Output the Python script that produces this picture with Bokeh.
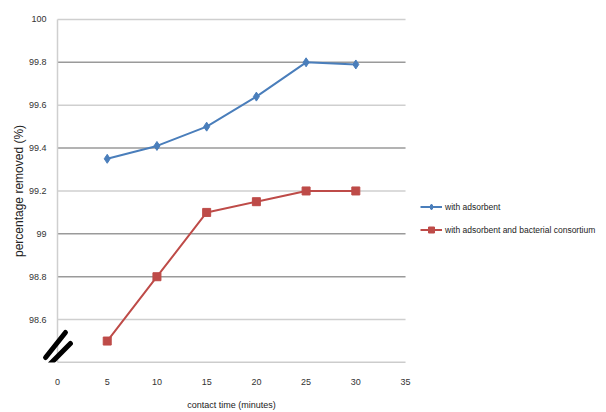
import math
from bokeh.plotting import figure
from bokeh.models import (Range1d, FixedTicker, Legend, LegendItem, LinearAxis)
from bokeh.core.properties import value
from bokeh.embed import file_html
from bokeh.resources import INLINE

# ---- data ----
contact_time = [5, 10, 15, 20, 25, 30]
with_adsorbent = [99.35, 99.41, 99.50, 99.64, 99.80, 99.79]
with_adsorbent_bacterial = [98.5, 98.8, 99.1, 99.15, 99.2, 99.2]

x_ticks = [0, 5, 10, 15, 20, 25, 30, 35]
y_ticks = [98.6, 98.8, 99.0, 99.2, 99.4, 99.6, 99.8, 100.0]
y_tick_labels = ["98.6", "98.8", "99", "99.2", "99.4", "99.6", "99.8", "100"]
y_min, y_max = 98.4, 100.0
dark_grid = [98.4, 98.8, 99.0, 99.4, 99.8]
light_grid = [98.6, 99.2, 99.6, 100.0]

series_names = ["with adsorbent", "with adsorbent and bacterial consortium"]
x_title = "contact time (minutes)"
y_title = "percentage removed (%)"

# axis-break marker (two slanted strokes across the value axis)
break_x0 = [-1.2, -0.7]
break_x1 = [0.8, 1.3]
break_y0 = [98.423, 98.395]
break_y1 = [98.540, 98.489]

BLUE = "#4a7ebb"
RED = "#be4b48"
FONT = "Liberation Sans"

# frame covers the whole width; value-axis labels are drawn inside it
p = figure(width=606, height=412, output_backend="svg", toolbar_location=None,
           x_range=Range1d(-5.733, 55.21), y_range=Range1d(y_min, y_max + 0.037),
           min_border_left=0, min_border_right=0, min_border_top=11,
           min_border_bottom=50)
p.outline_line_color = None
p.background_fill_color = "white"
p.border_fill_color = "white"
p.xgrid.visible = False
p.ygrid.visible = False
p.yaxis.visible = False

# horizontal gridlines from x=0 to the last tick
n_l = len(light_grid)
p.segment(x0=[x_ticks[0]] * n_l, x1=[x_ticks[-1]] * n_l, y0=light_grid, y1=light_grid,
          line_color="#cfcfcf", line_width=1.5)
n_d = len(dark_grid)
p.segment(x0=[x_ticks[0]] * n_d, x1=[x_ticks[-1]] * n_d, y0=dark_grid, y1=dark_grid,
          line_color="#9a9a9a", line_width=1.5)
# vertical value axis line at x = 0
p.segment(x0=[x_ticks[0]], x1=[x_ticks[0]], y0=[y_min], y1=[y_max],
          line_color="#cfcfcf", line_width=1.5)

# value-axis tick labels and title
p.text(x=[-1.1] * len(y_ticks), y=y_ticks, text=y_tick_labels,
       text_font=value(FONT), text_font_size="9px", text_color="#333333",
       text_align="right", text_baseline="middle")
p.text(x=[-3.9], y=[(y_min + y_max) / 2], text=[y_title], angle=math.pi / 2,
       text_font=value(FONT), text_font_size="12px", text_color="#222222",
       text_align="center", text_baseline="middle")

# category axis
p.xaxis.ticker = FixedTicker(ticks=x_ticks)
title_axis = LinearAxis(ticker=FixedTicker(ticks=[x_ticks[-1] / 2]),
                        major_label_overrides={x_ticks[-1] / 2: x_title})
p.add_layout(title_axis, "below")
for ax in (p.xaxis[0], title_axis):
    ax.axis_line_color = None
    ax.major_tick_line_color = None
    ax.minor_tick_line_color = None
    ax.major_label_text_font = FONT
    ax.major_label_text_font_size = "9px"
    ax.major_label_text_color = "#333333"
title_axis.major_label_text_color = "#222222"
p.xaxis[0].major_label_standoff = 10
title_axis.major_label_standoff = 6

# axis break marker
p.segment(x0=break_x0, x1=break_x1, y0=break_y0, y1=break_y1,
          line_color="black", line_width=5, line_cap="round")

# series
l1 = p.line(contact_time, with_adsorbent, line_color=BLUE, line_width=2)
m1 = p.scatter(contact_time, with_adsorbent, marker="diamond", size=9,
               fill_color=BLUE, line_color=BLUE)
l2 = p.line(contact_time, with_adsorbent_bacterial, line_color=RED, line_width=2)
m2 = p.scatter(contact_time, with_adsorbent_bacterial, marker="square", size=8,
               fill_color=RED, line_color=RED)

legend = Legend(items=[LegendItem(label=series_names[0], renderers=[l1, m1]),
                       LegendItem(label=series_names[1], renderers=[l2, m2])],
                location=(420, 125), orientation="vertical",
                border_line_color=None, background_fill_alpha=0,
                label_text_font=FONT, label_text_font_size="8.5px",
                label_text_color="#222222", glyph_width=22, glyph_height=15,
                label_height=15, spacing=8, padding=0, margin=0,
                label_standoff=3)
p.add_layout(legend, "center")

open("out.html", "w").write(file_html(p, INLINE))
